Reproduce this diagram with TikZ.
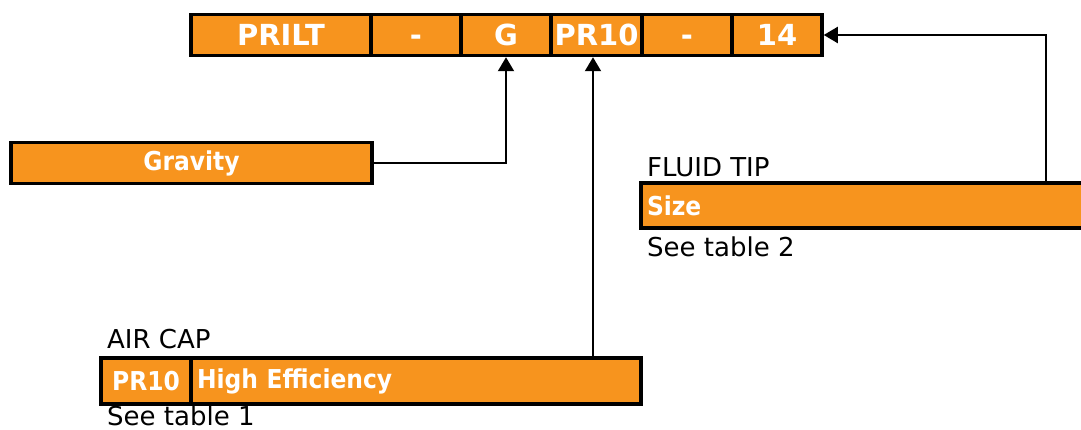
\documentclass[tikz,border=0pt]{standalone}
\usepackage{fontspec}
\setmainfont{DejaVu Sans}[BoldFont={DejaVu Sans Condensed Bold}]
\newfontfamily\barfont{DejaVu Sans}
\usetikzlibrary{arrows.meta,positioning}
\definecolor{codeorange}{HTML}{F7941E}

\begin{document}
\begin{tikzpicture}[x=1pt,y=-1pt,
    cell/.style={draw=black,line width=3.5pt,fill=codeorange,text=white,outer sep=0pt,
      font=\barfont\fontsize{29}{30}\selectfont\bfseries,minimum height=41pt,inner sep=0pt,
      text height=21pt,text depth=0pt},
    field/.style={draw=black,line width=3.5pt,fill=codeorange,text=white,outer sep=0pt,
      font=\fontsize{26}{27}\selectfont\bfseries,inner sep=0pt},
    caption/.style={font=\fontsize{26}{27}\selectfont,anchor=base west,inner sep=0pt},
    conn/.style={line width=2pt,shorten >=1.75pt,-{Triangle[length=14pt,width=16pt]}}]
        \useasboundingbox (0,0) rectangle (1081,430);

        % code bar
        \node[cell,minimum width=180pt] (prilt) at (281,35) {PRILT};
        \node[cell,minimum width=90pt,right=0pt of prilt] (dasha) {-};
        \node[cell,minimum width=90pt,right=0pt of dasha] (grav) {G};
        \node[cell,minimum width=91pt,right=0pt of grav] (pr) {PR10};
        \node[cell,minimum width=90pt,right=0pt of pr] (dashb) {-};
        \node[cell,minimum width=90pt,right=0pt of dashb] (tip) {14};

        % gravity
        \node[field,minimum width=361pt,minimum height=41pt] (gravity) at (191.5,163) {Gravity};

        % fluid tip
        \node[caption] (tiptitle) at (647,177) {FLUID TIP};
        \node[field,text width=432pt,inner xsep=6pt,align=left,minimum height=45pt] (size) at (863,205.5) {Size};
        \node[caption] (tipnote) at (647,257) {See table 2};
        \coordinate (tiplink) at (1046,0);

        % air cap
        \node[caption] (captitle) at (107,348) {AIR CAP};
        \node[field,minimum width=90pt,minimum height=46pt] (capcode) at (146,381) {PR10};
        \node[field,text width=438pt,inner xsep=6pt,align=left,minimum height=46pt,right=0pt of capcode] (capname) {High Efficiency};
        \node[caption] (capnote) at (107,425) {See table 1};
        \coordinate (caplink) at (593,0);

        \draw[conn] (gravity.east) -| (grav.south);
        \draw[conn] (caplink |- capname.north) -- (caplink |- pr.south);
        \draw[conn] (tiplink |- size.north) |- (tip.east);

      \end{tikzpicture}
\end{document}
